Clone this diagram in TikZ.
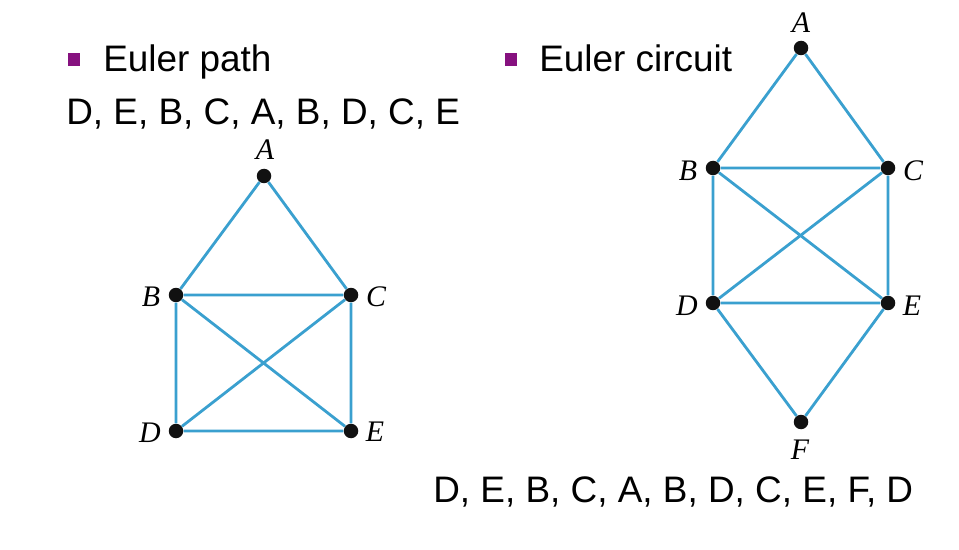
\documentclass[tikz,border=0pt]{standalone}
\usepackage{fontspec}
\setmainfont{Liberation Sans}
\newfontfamily\labelfont{Liberation Serif}
\usetikzlibrary{positioning}
\definecolor{edgeblue}{HTML}{3AA0CF}
\definecolor{bulletpurple}{HTML}{86117F}
\definecolor{dotblack}{HTML}{111111}

\begin{document}
\begin{tikzpicture}[x=0.02cm,y=-0.02cm,
  vtx/.style={circle,fill=dotblack,inner sep=0pt,minimum size=0.29cm},
  vlabel/.style={font=\labelfont\itshape\fontsize{17}{20}\selectfont,inner sep=0pt},
  edge/.style={draw=edgeblue,line width=1.6pt},
  bigtext/.style={anchor=base west,inner sep=0pt,font=\fontsize{21}{25}\selectfont}]
\useasboundingbox (0,0) rectangle (959,550);
% headings
\fill[bulletpurple] (68,53) rectangle (80,66);
\node[bigtext] (pathhead) at (103,72) {Euler path};
\fill[bulletpurple] (505,53) rectangle (517,66);
\node[bigtext] (circhead) at (539,72) {Euler circuit};
\node[bigtext] (pathseq) at (66,125) {D, E, B, C, A, B, D, C, E};
\node[bigtext] (circseq) at (433,502) {D, E, B, C, A, B, D, C, E, F, D};
% Euler path graph
\node[vtx] (pA) at (264,176) {};
\node[vtx] (pB) at (176,295) {};
\node[vtx] (pC) at (351,295) {};
\node[vtx] (pD) at (176,431) {};
\node[vtx] (pE) at (351,431) {};
\node[vlabel] at (265,150) {A};
\node[vlabel] at (151,297) {B};
\node[vlabel] at (376,297) {C};
\node[vlabel] at (150,433) {D};
\node[vlabel] at (375,432) {E};
\draw[edge] (pA) -- (pB) (pA) -- (pC) (pB) -- (pC) (pB) -- (pD) (pB) -- (pE)
  (pC) -- (pD) (pC) -- (pE) (pD) -- (pE);
% Euler circuit graph
\node[vtx] (cA) at (801,48) {};
\node[vtx] (cB) at (713,168) {};
\node[vtx] (cC) at (888,168) {};
\node[vtx] (cD) at (713,303) {};
\node[vtx] (cE) at (888,303) {};
\node[vtx] (cF) at (801,422) {};
\node[vlabel] at (801,23) {A};
\node[vlabel] at (688,171) {B};
\node[vlabel] at (913,171) {C};
\node[vlabel] at (687,306) {D};
\node[vlabel] at (912,306) {E};
\node[vlabel] at (800,450) {F};
\draw[edge] (cA) -- (cB) (cA) -- (cC) (cB) -- (cC) (cB) -- (cD) (cB) -- (cE)
  (cC) -- (cD) (cC) -- (cE) (cD) -- (cE) (cD) -- (cF) (cE) -- (cF);
\end{tikzpicture}
\end{document}
